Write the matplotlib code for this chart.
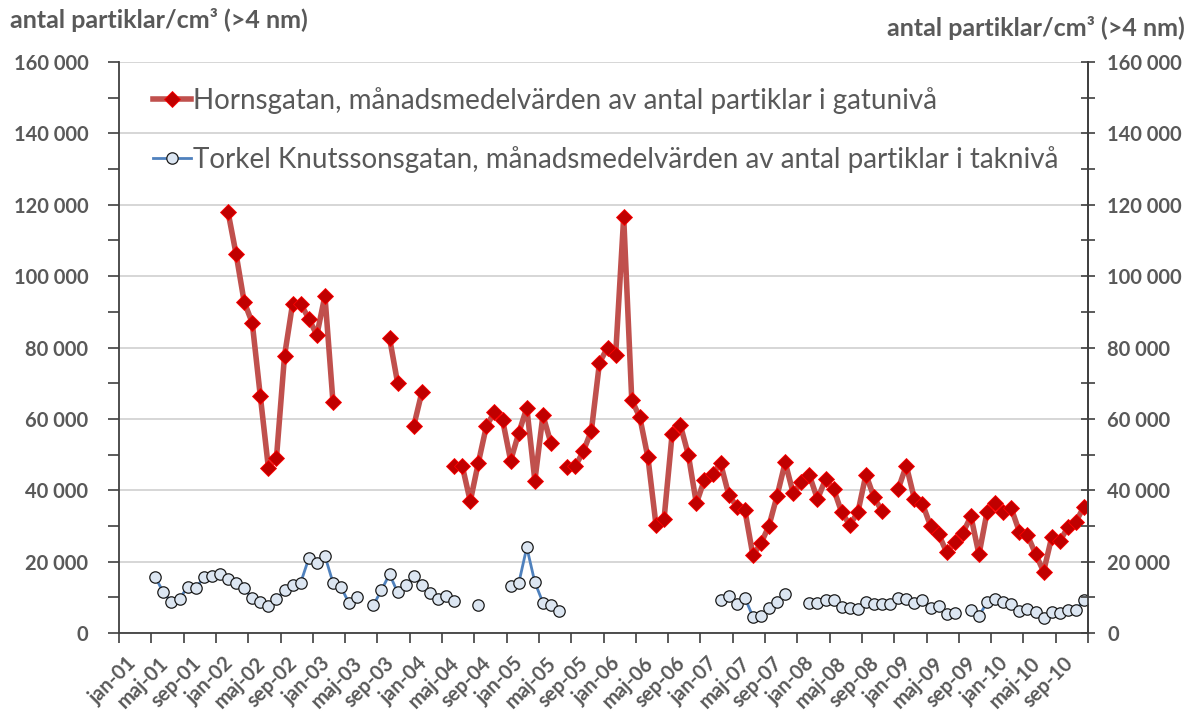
import numpy as np
import matplotlib
matplotlib.use("Agg")
import matplotlib.pyplot as plt
from matplotlib.ticker import MultipleLocator, FuncFormatter
import matplotlib.transforms as mtransforms

# ---------------- data ----------------
month_abbr = ["jan", "feb", "mar", "apr", "maj", "jun", "jul", "aug", "sep", "okt", "nov", "dec"]
years = ["01", "02", "03", "04", "05", "06", "07", "08", "09", "10"]
months = [f"{m}-{y}" for y in years for m in month_abbr]

N = None
hornsgatan = [
    N, N, N, N, N, N, N, N, N, N, N, N,
    N, 118000, 106200, 92800, 86900, 66400, 46300, 49100, 77700, 92300, 92200, 88100,
    83500, 94500, 64700, N, N, N, N, N, N, 82700, 70100, N,
    58000, 67400, N, N, N, 46900, 46900, 36900, 47700, 58000, 61900, 59700,
    48300, 56000, 63100, 42700, 61000, 53100, N, 46400, 46700, 50900, 56700, 75700,
    80000, 77800, 116500, 65300, 60400, 49200, 30300, 32000, 55800, 58400, 50000, 36300,
    43000, 44600, 47500, 38800, 35400, 34500, 21800, 25100, 30100, 38500, 47800, 39100,
    42300, 44200, 37500, 43100, 40300, 33800, 30300, 33800, 44400, 38000, 34100, N,
    40400, 46900, 37600, 36200, 30000, 27700, 22600, 25400, 28000, 32700, 22000, 33900,
    36300, 33800, 34900, 28400, 27400, 22200, 17200, 26800, 25700, 29600, 31200, 35400,
]

torkel = [
    N, N, N, N, 15600, 11400, 8600, 9500, 13000, 12500, 15600, 16100,
    16500, 15000, 13900, 12500, 9700, 8600, 7700, 9500, 12000, 13400, 14100, 20900,
    19700, 21600, 14100, 12800, 8300, 10000, N, 7800, 12000, 16500, 11400, 13400,
    16000, 13400, 11100, 9400, 10400, 9000, N, N, 7800, N, N, N,
    13300, 13900, 24000, 14200, 8500, 7800, 6200, N, N, N, N, N,
    N, N, N, N, N, N, N, N, N, N, N, N,
    N, N, 9200, 10500, 8100, 9900, 4600, 4800, 6900, 8800, 10900, N,
    N, 8300, 8300, 9200, 9200, 7400, 6900, 6600, 8600, 8100, 8100, 8100,
    9700, 9400, 8300, 9200, 7100, 7600, 5200, 5700, N, 6400, 4800, 8600,
    9500, 8800, 8000, 6200, 6600, 6000, 4100, 5800, 5700, 6400, 6400, 9200,
]

label_red = "Hornsgatan, månadsmedelvärden av antal partiklar i gatunivå"
label_blue = "Torkel Knutssonsgatan, månadsmedelvärden av antal partiklar i taknivå"
ylabel = "antal partiklar/cm³ (>4 nm)"

# ---------------- plot ----------------
FONT = "Lato"
GREY = "#595959"
plt.rcParams["font.family"] = [FONT, "DejaVu Sans"]

fig = plt.figure(figsize=(11.95, 7.17), dpi=100)
ax = fig.add_axes([119 / 1195, 1 - 633 / 717, (1088 - 119) / 1195, (633 - 62) / 717])

x = np.arange(len(months))
red = np.array([np.nan if v is None else v for v in hornsgatan], dtype=float)
blue = np.array([np.nan if v is None else v for v in torkel], dtype=float)

ax.plot(x, blue, color="#4F81BD", lw=2.0, marker="o", ms=8.2,
        mfc="#DCE6F2", mec="#1a1a1a", mew=0.9, label=label_blue, zorder=3)
ax.plot(x, red, color="#C0504D", lw=4.0, marker="D", ms=8.2,
        mfc="#C00000", mec="#FF0000", mew=0.6, label=label_red, zorder=4)

ax.set_xlim(-0.5, len(months) - 0.5)
ax.set_ylim(0, 160000)

TICK_FS = 14.5

ax.yaxis.set_major_locator(MultipleLocator(20000))
ax.yaxis.set_minor_locator(MultipleLocator(10000))
fmt = FuncFormatter(lambda v, p: f"{int(v):,}".replace(",", " "))
ax.yaxis.set_major_formatter(fmt)
ax.grid(axis="y", which="major", color="#D0D0D0", lw=1.2, zorder=0)
ax.set_axisbelow(True)
ax.tick_params(axis="y", which="both", direction="out", length=8, width=1.2,
               color="#404040", labelsize=TICK_FS, labelcolor=GREY, pad=14)
for lab in ax.get_yticklabels():
    lab.set_fontweight("bold")

ax.set_xticks(np.arange(-0.5, len(months), 4))
ax.set_xticklabels([])
ax.tick_params(axis="x", which="major", direction="out", length=7, width=1.2, color="#404040")
offset = mtransforms.ScaledTranslation(3 / 100, -20 / 100, fig.dpi_scale_trans)
xtrans = mtransforms.blended_transform_factory(ax.transData, ax.transAxes) + offset
for i in range(0, len(months), 4):
    ax.text(i, 0, months[i], rotation=45, ha="right", va="top",
            rotation_mode="anchor", fontsize=TICK_FS, fontweight="bold", color=GREY,
            transform=xtrans)

ax.spines["top"].set_visible(False)
for s in ["left", "bottom", "right"]:
    ax.spines[s].set_color("#404040")
    ax.spines[s].set_linewidth(1.3)

ax2 = ax.twinx()
ax2.set_ylim(0, 160000)
ax2.yaxis.set_major_locator(MultipleLocator(20000))
ax2.yaxis.set_minor_locator(MultipleLocator(10000))
ax2.yaxis.set_major_formatter(fmt)
ax2.tick_params(axis="y", which="both", direction="inout", length=10, width=1.2,
                color="#404040", labelsize=TICK_FS, labelcolor=GREY, pad=9)
for lab in ax2.get_yticklabels():
    lab.set_fontweight("bold")
for s in ["top", "left", "bottom"]:
    ax2.spines[s].set_visible(False)
ax2.spines["right"].set_color("#404040")
ax2.spines["right"].set_linewidth(1.3)

h, l = ax.get_legend_handles_labels()
leg = ax.legend([h[1], h[0]], [l[1], l[0]], loc="upper left", bbox_to_anchor=(0.018, 0.985),
                frameon=False, fontsize=20, labelcolor=GREY, handlelength=1.35,
                handletextpad=0.08, labelspacing=1.15, borderaxespad=0.2)
leg.set_zorder(10)

fig.text(10 / 1195, 1 - 20 / 717, ylabel, ha="left", va="center", fontsize=18,
         fontweight="bold", color=GREY)
fig.text(1185 / 1195, 1 - 28 / 717, ylabel, ha="right", va="center", fontsize=18,
         fontweight="bold", color=GREY)

fig.savefig("out.png", dpi=100)
